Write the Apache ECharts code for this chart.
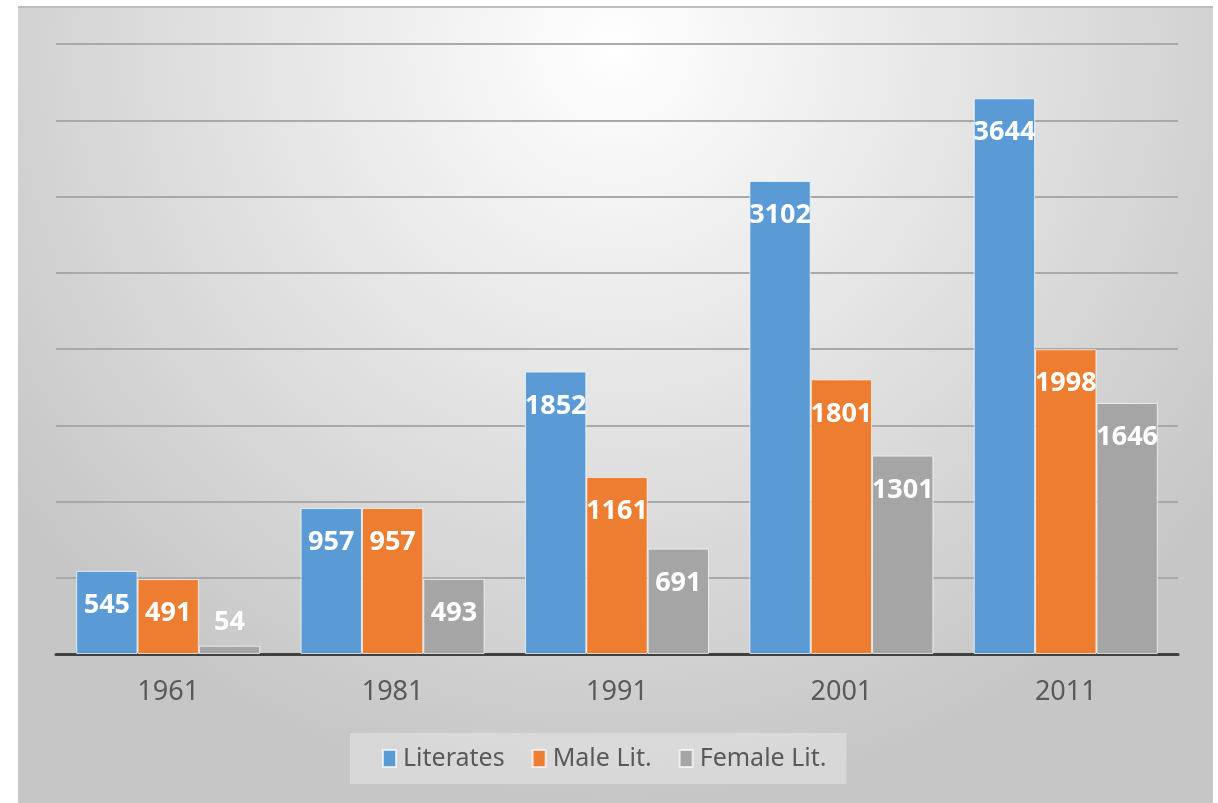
<!DOCTYPE html>
<html><head><meta charset="utf-8">
<script src="https://cdn.jsdelivr.net/npm/echarts@6/dist/echarts.min.js"></script>
<style>
html,body{margin:0;padding:0;background:#fff;}
#c{position:absolute;left:18px;top:6px;width:1195px;height:797px;border-top:2px solid #bdbdbd;box-sizing:border-box;}
</style></head>
<body><div id="c"></div>
<script>
const categories = ['1961','1981','1991','2001','2011'];
const literates = [545, 957, 1852, 3102, 3644];
const maleLit = [491, 957, 1161, 1801, 1998];
const femaleLit = [54, 493, 691, 1301, 1646];
const seriesNames = ['Literates','Male Lit.','Female Lit.'];
const colors = ['#5B9BD5','#ED7D31','#A5A5A5'];

const chart = echarts.init(document.getElementById('c'), null, {renderer:'canvas'});
const labelStyle = {
  show: true, position: 'insideTop', distance: 21,
  color: '#ffffff', fontFamily: 'Noto Sans', fontWeight: 'bold', fontSize: 27
};
function mk(name, data, color){
  return {
    name, type: 'bar', data: data.map(v => {
      if (v < 200) return {value: v, label: {position: 'top', distance: 10}};
      return v;
    }),
    barGap: '0%', barCategoryGap: '18%',
    itemStyle: {color, borderColor: 'rgba(255,255,255,0.7)', borderWidth: 1},
    label: labelStyle
  };
}
chart.setOption({
  backgroundColor: {
    type: 'radial', x: 0.5, y: 0.05, r: 0.95,
    colorStops: [{offset: 0, color: '#ffffff'}, {offset: 1, color: '#c6c6c6'}]
  },
  color: colors,
  grid: {left: 38, right: 35, top: 36, bottom: 149, containLabel: false},
  xAxis: {
    type: 'category', data: categories,
    axisLine: {lineStyle: {color: '#404040', width: 3}},
    axisTick: {show: false},
    axisLabel: {color: '#595959', fontFamily: 'Noto Sans', fontSize: 27, margin: 25}
  },
  yAxis: {
    type: 'value', min: 0, max: 4000, interval: 500,
    axisLabel: {show: false}, axisLine: {show: false}, axisTick: {show: false},
    splitLine: {lineStyle: {color: '#a9a9a9', width: 2}}
  },
  legend: {
    data: seriesNames, left: 332, top: 725,
    backgroundColor: 'rgba(255,255,255,0.3)',
    padding: [13, 20, 13, 32], itemGap: 27,
    itemWidth: 13, itemHeight: 17, icon: 'rect',
    textStyle: {color: '#595959', fontFamily: 'Noto Sans', fontSize: 25, padding: [0, 0, 0, 2]}
  },
  series: [mk(seriesNames[0], literates, colors[0]), mk(seriesNames[1], maleLit, colors[1]), mk(seriesNames[2], femaleLit, colors[2])]
});
</script></body></html>
